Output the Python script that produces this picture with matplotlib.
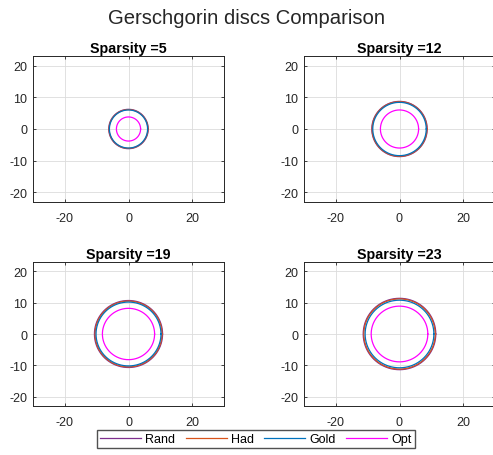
import numpy as np
import matplotlib
matplotlib.use("Agg")
import matplotlib.pyplot as plt

plt.rcParams['font.family'] = ['Liberation Sans', 'DejaVu Sans']
plt.rcParams['axes.unicode_minus'] = False

# radii of the discs (Rand, Had, Gold, Opt)
sparsity = [5, 12, 19, 23]
r_rand = [6.2, 8.7, 10.7, 11.4]
r_had = [6.1, 8.6, 10.5, 11.2]
r_gold = [6.0, 8.4, 10.2, 10.8]
r_opt = [3.8, 6.0, 8.2, 8.9]
labels = ['Rand', 'Had', 'Gold', 'Opt']
colors = [(0.494, 0.184, 0.556), (0.85, 0.325, 0.098), (0, 0.447, 0.741), (1, 0, 1)]

W, H = 493, 456
fig = plt.figure(figsize=(W / 100, H / 100), dpi=100)

# axes boxes in pixels: left, top, width, height
boxes = [(33, 57, 191, 146), (304, 57, 191, 146), (33, 263, 191, 144), (304, 263, 191, 144)]

t = np.linspace(0, 2 * np.pi, 400)
handles = []
for i, (l, tp, w, h) in enumerate(boxes):
    ax = fig.add_axes([l / W, 1 - (tp + h) / H, w / W, h / H])
    radii = [r_rand[i], r_had[i], r_gold[i], r_opt[i]]
    for r, c, lab in zip(radii, colors, labels):
        ln, = ax.plot(r * np.cos(t), r * np.sin(t), color=c, lw=0.9, label=lab)
        if i == 0:
            handles.append(ln)
    ax.set_xlim(-30, 30)
    ax.set_ylim(-23, 23)
    ax.set_xticks([-20, 0, 20])
    ax.set_yticks([-20, -10, 0, 10, 20])
    ax.grid(True, color='#dcdcdc', lw=0.6)
    ax.set_axisbelow(True)
    ax.tick_params(direction='in', length=2.5, labelsize=9, colors='#262626',
                   top=True, right=True, width=0.6)
    ax.tick_params(axis='x', pad=7.5)
    ax.tick_params(axis='y', pad=4)
    for s in ax.spines.values():
        s.set_color('#262626')
        s.set_linewidth(0.7)
    ax.set_title('Sparsity =%d' % sparsity[i], fontsize=10.3, fontweight='bold', pad=3)

fig.suptitle('Gerschgorin discs Comparison', fontsize=14.6, y=1 - 18 / H, va='center', color='#262626')

fig.legend(handles=handles, labels=labels, loc='center', ncol=4,
           bbox_to_anchor=(256 / W, 1 - 440 / H), fontsize=9, frameon=True,
           fancybox=False, edgecolor='#262626', handlelength=3.3, handletextpad=0.35,
           columnspacing=0.8, borderpad=0.25)

fig.savefig('out.png', dpi=100)
